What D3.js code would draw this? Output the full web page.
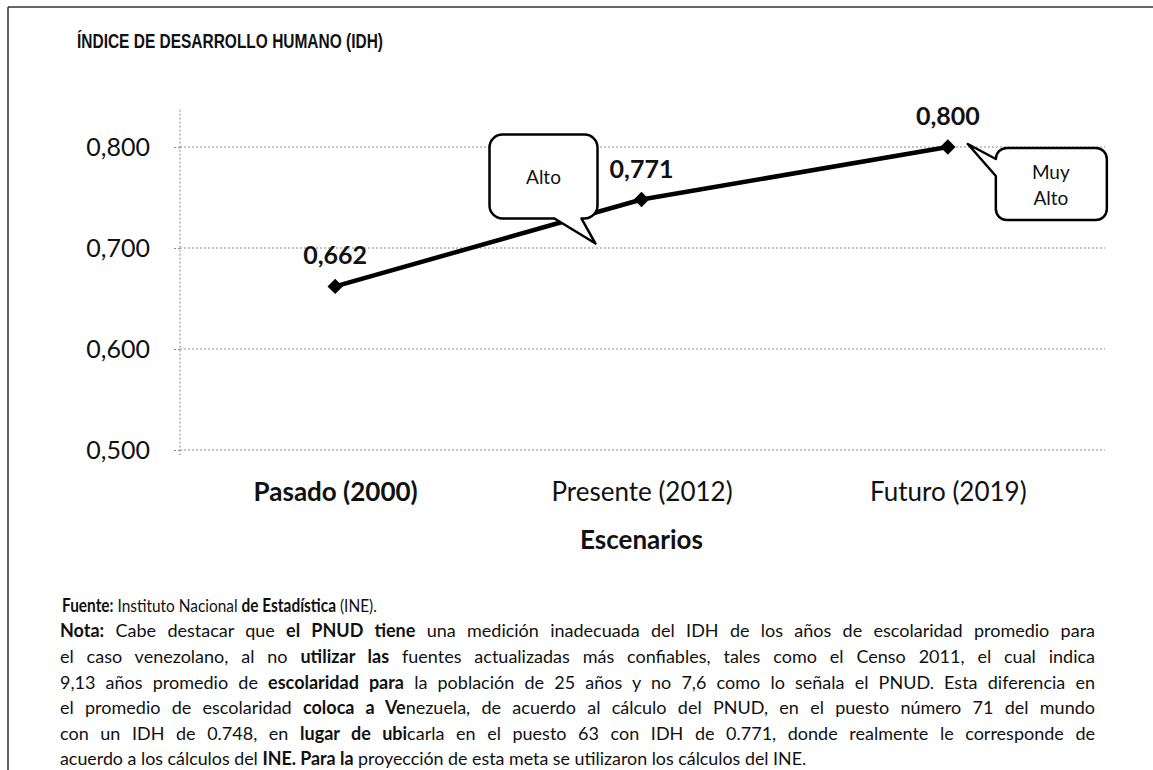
<!DOCTYPE html>
<html><head><meta charset="utf-8">
<script src="https://cdn.jsdelivr.net/npm/d3@7"></script>
<style>
html,body{margin:0;padding:0;background:#fff;}
svg text{white-space:pre;}
</style></head>
<body>
<svg id="chart" width="1153" height="770"></svg>
<script>
// ---- data ----
const categories = ["Pasado (2000)", "Presente (2012)", "Futuro (2019)"];
const values = [0.662, 0.748, 0.800];
const valueLabels = ["0,662", "0,771", "0,800"];
const yTicks = [0.5, 0.6, 0.7, 0.8];
const calloutTexts = [["Alto"], ["Muy", "Alto"]];
const calloutCats = [1, 2];
const title = "ÍNDICE DE DESARROLLO HUMANO (IDH)";
const xTitle = "Escenarios";
const footLines = [
  [["Fuente:", 1], [" Instituto Nacional ", 0], ["de Estadística", 1], [" (INE).", 0]],
  [["Nota:", 1], [" Cabe destacar que ", 0], ["el PNUD tiene", 1], [" una medición inadecuada del IDH de los años de escolaridad promedio para", 0]],
  [["el caso venezolano, al no ", 0], ["utilizar las", 1], [" fuentes actualizadas más confiables, tales como el Censo 2011, el cual indica", 0]],
  [["9,13 años promedio de ", 0], ["escolaridad para", 1], [" la población de 25 años y no 7,6 como lo señala el PNUD. Esta diferencia en", 0]],
  [["el promedio de escolaridad ", 0], ["coloca a Ve", 1], ["nezuela, de acuerdo al cálculo del PNUD, en el puesto número 71 del mundo", 0]],
  [["con un IDH de 0.748, en ", 0], ["lugar de ubi", 1], ["carla en el puesto 63 con IDH de 0.771, donde realmente le corresponde de", 0]],
  [["acuerdo a los cálculos del ", 0], ["INE. Para la", 1], [" proyección de esta meta se utilizaron los cálculos del INE.", 0]]
];

// ---- layout ----
const svg = d3.select("#chart");
const FONT = "Lato, 'Open Sans', sans-serif";
const x = d3.scalePoint().domain(categories).range([182, 1101]).padding(0.5);
const y = d3.scaleLinear().domain([0.5, 0.8]).range([450, 147]);
const fmt = v => d3.format(".3f")(v).replace(".", ",");

// frame
svg.append("line").attr("x1", 8).attr("x2", 1153).attr("y1", 7).attr("y2", 7).attr("stroke", "#333").attr("stroke-width", 1.5);
svg.append("line").attr("x1", 8).attr("x2", 8).attr("y1", 7).attr("y2", 770).attr("stroke", "#333").attr("stroke-width", 1.5);

// title
svg.append("text").attr("x", 77).attr("y", 48)
  .attr("font-family", "'Liberation Sans', Arial, sans-serif").attr("font-weight", "bold").attr("font-size", 20.5)
  .attr("textLength", 306).attr("lengthAdjust", "spacingAndGlyphs")
  .attr("fill", "#111").text(title);

// gridlines
svg.append("g").selectAll("line").data(yTicks).join("line")
  .attr("x1", 180).attr("x2", 1105)
  .attr("y1", d => y(d)).attr("y2", d => y(d))
  .attr("stroke", "#8a8a8a").attr("stroke-width", 1).attr("stroke-dasharray", "2,2");

// y axis line (dotted)
svg.append("line").attr("x1", 180).attr("x2", 180).attr("y1", y(0.837)).attr("y2", y(0.495))
  .attr("stroke", "#8a8a8a").attr("stroke-width", 1).attr("stroke-dasharray", "2,2");

// y axis
const yAxis = svg.append("g").attr("transform", "translate(180,0)")
  .call(d3.axisLeft(y).tickValues(yTicks).tickFormat(fmt).tickSize(8).tickPadding(22));
yAxis.select(".domain").remove();
yAxis.selectAll(".tick line").attr("stroke", "#8a8a8a").attr("stroke-dasharray", "2,2");
yAxis.selectAll(".tick text").attr("font-family", FONT).attr("font-size", 25).attr("fill", "#111");

// x axis
const xAxis = svg.append("g").attr("transform", "translate(0,450)")
  .call(d3.axisBottom(x).tickSize(0).tickPadding(33));
xAxis.select(".domain").remove();
xAxis.selectAll(".tick text").attr("font-family", FONT).attr("font-size", 26).attr("fill", "#111")
  .attr("font-weight", (d, i) => i === 0 ? "bold" : "normal");

// x title
svg.append("text").attr("x", x(categories[1])).attr("y", 549).attr("text-anchor", "middle")
  .attr("font-family", FONT).attr("font-weight", "bold").attr("font-size", 26).attr("fill", "#111").text(xTitle);

// line
const pts = categories.map((c, i) => [x(c), y(values[i])]);
svg.append("path").attr("d", d3.line()(pts)).attr("fill", "none").attr("stroke", "#000").attr("stroke-width", 4.5)
  .attr("stroke-linejoin", "round");

// markers
svg.append("g").selectAll("path").data(pts).join("path")
  .attr("transform", d => `translate(${d[0]},${d[1]})`)
  .attr("d", d3.symbol().type(d3.symbolDiamond2).size(150))
  .attr("fill", "#000");

// value labels
svg.append("g").selectAll("text").data(pts).join("text")
  .attr("x", d => d[0])
  .attr("y", d => d[1] - 22)
  .attr("text-anchor", "middle")
  .attr("font-family", FONT).attr("font-weight", "bold").attr("font-size", 25).attr("fill", "#111")
  .text((d, i) => valueLabels[i]);

// callouts
function rr(x0, y0, x1, y1, r, side, a, tip, b) {
  let p = `M${x0 + r},${y0} H${x1 - r} A${r},${r} 0 0 1 ${x1},${y0 + r} V${y1 - r} A${r},${r} 0 0 1 ${x1 - r},${y1}`;
  if (side === "bottom") p += ` H${b} L${tip[0]},${tip[1]} L${a},${y1}`;
  p += ` H${x0 + r} A${r},${r} 0 0 1 ${x0},${y1 - r}`;
  if (side === "left") p += ` V${b} L${tip[0]},${tip[1]} L${x0},${a}`;
  p += ` V${y0 + r} A${r},${r} 0 0 1 ${x0 + r},${y0} Z`;
  return p;
}
const cg = svg.append("g");
{
  const [px, py] = pts[calloutCats[0]];
  cg.append("path").attr("d", rr(px - 152, py - 65, px - 44, py + 19, 13, "bottom", px - 87, [px - 46, py + 44], px - 60))
    .attr("fill", "#fff").attr("stroke", "#000").attr("stroke-width", 2.5).attr("stroke-linejoin", "round");
  cg.append("text").attr("x", px - 98).attr("y", py - 16).attr("text-anchor", "middle")
    .attr("font-family", FONT).attr("font-size", 19).attr("fill", "#111").text(calloutTexts[0][0]);
}
{
  const [px, py] = pts[calloutCats[1]];
  cg.append("path").attr("d", rr(px + 48, py + 1, px + 159, py + 73, 11, "left", py + 12, [px + 20, py - 3], py + 29))
    .attr("fill", "#fff").attr("stroke", "#000").attr("stroke-width", 2.5).attr("stroke-linejoin", "round");
  calloutTexts[1].forEach((t, i) => {
    cg.append("text").attr("x", px + 103).attr("y", py + 32 + i * 26).attr("text-anchor", "middle")
      .attr("font-family", FONT).attr("font-size", 19).attr("fill", "#111").text(t);
  });
}

// footnote
const footX = [62, 60, 60, 60, 60, 60, 60];
const footEnd = [377, 1095, 1095, 1095, 1095, 1095, 807];
const footY = [612, 637, 663, 689, 714, 740, 765];
const fg = svg.append("g");
footLines.forEach((segs, i) => {
  const t = fg.append("text").attr("x", footX[i]).attr("y", footY[i])
    .attr("font-family", FONT).attr("font-size", 18).attr("fill", "#111");
  segs.forEach(s => t.append("tspan").attr("font-weight", s[1] ? "bold" : "normal").text(s[0]));
  const w = t.node().getComputedTextLength();
  const target = footEnd[i] - footX[i];
  const nSp = segs.map(s => s[0]).join("").split(" ").length - 1;
  if (w < target) {
    t.attr("word-spacing", (target - w) / nSp);
  } else {
    t.attr("x", 0).attr("y", 0)
      .attr("transform", `translate(${footX[i]},${footY[i]}) scale(${target / w},1)`);
  }
});
</script>
</body></html>
